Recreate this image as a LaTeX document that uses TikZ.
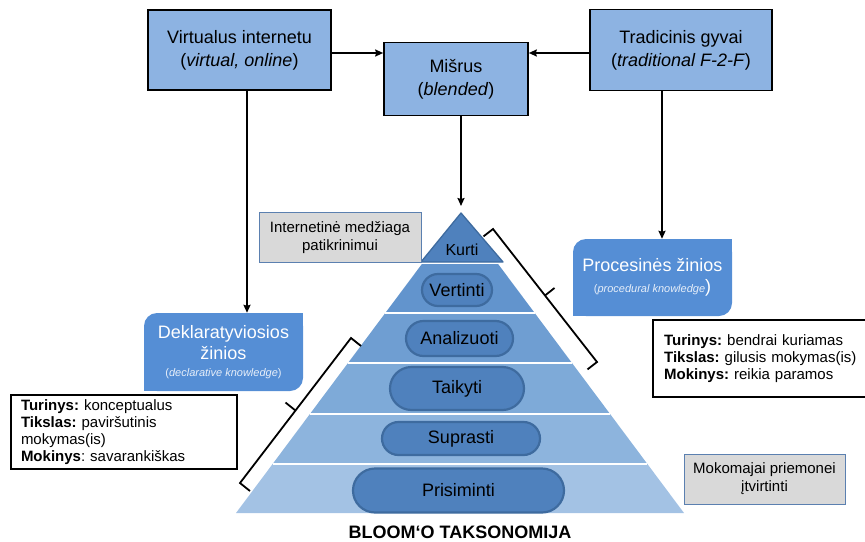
\documentclass[tikz,border=0pt]{standalone}
\usepackage{fontspec}
\setmainfont{Liberation Sans}
\usetikzlibrary{arrows.meta,shapes.misc}
\frenchspacing

\definecolor{boxblue}{HTML}{8DB3E2}
\definecolor{knowblue}{HTML}{558ED5}
\definecolor{pillfill}{HTML}{4F81BD}
\definecolor{pillline}{HTML}{3E6B9F}
\definecolor{greyfill}{HTML}{D9D9D9}
\definecolor{greyline}{HTML}{5B80B0}
\definecolor{laytwo}{HTML}{6294CD}
\definecolor{laythree}{HTML}{6F9ED2}
\definecolor{layfour}{HTML}{7EAAD8}
\definecolor{layfive}{HTML}{8DB4DD}
\definecolor{laysix}{HTML}{A3C2E4}
\definecolor{subwhite}{HTML}{E6EEF9}

\begin{document}
\begin{tikzpicture}[x=1pt,y=-1pt,
  topbox/.style={draw=black, line width=1.6pt, fill=boxblue, align=center,
    inner sep=0pt, font=\fontsize{18}{23}\selectfont},
  knowbox/.style={fill=knowblue, rounded corners=13pt, text=white, align=center,
    inner sep=0pt, font=\fontsize{18}{21}\selectfont},
  notebox/.style={draw=black, line width=2.2pt, fill=white, align=left,
    inner ysep=0pt, font=\fontsize{15}{17}\selectfont},
  greybox/.style={draw=greyline, line width=1pt, fill=greyfill, align=center,
    inner sep=0pt, font=\fontsize{15}{18}\selectfont},
  pill/.style={rounded rectangle, draw=pillline, line width=2.2pt, fill=pillfill,
    inner sep=0pt, font=\fontsize{18}{20}\selectfont},
  arr/.style={line width=1.8pt, -{Stealth[length=8pt,width=7pt,inset=1pt]}},
  bracket/.style={line width=1.8pt, line join=miter},
  sepline/.style={white, line width=1.8pt}]
\useasboundingbox (0,0) rectangle (865,541);

% --- delivery modes ---
\node[topbox, minimum width=183pt, minimum height=80pt] (virt) at (239.5,50)
  {Virtualus internetu\\(\textit{virtual, online})};
\node[topbox, minimum width=144pt, minimum height=73pt] (mis) at (456,79)
  {Mišrus\\(\textit{blended})};
\node[topbox, minimum width=182pt, minimum height=81pt] (trad) at (681,50)
  {Tradicinis gyvai\\(\textit{traditional F-2-F})};

% --- pyramid layers ---
\fill[laytwo]   (421.9,264) -- (498.1,264) -- (534.7,313) -- (385.3,313) -- cycle;
\fill[laythree] (385.3,313) -- (534.7,313) -- (572.0,363) -- (348.0,363) -- cycle;
\fill[layfour]  (348.0,363) -- (572.0,363) -- (610.1,414) -- (309.9,414) -- cycle;
\fill[layfive]  (309.9,414) -- (610.1,414) -- (647.4,464) -- (272.6,464) -- cycle;
\fill[laysix]   (272.6,464) -- (647.4,464) -- (684,513) -- (236,513) -- cycle;
\draw[sepline] (385.3,313) -- (534.7,313);
\draw[sepline] (348.0,363) -- (572.0,363);
\draw[sepline] (309.9,414) -- (610.1,414);
\draw[sepline] (272.6,464) -- (647.4,464);

% top of the pyramid
\coordinate (apex) at (461,213);
\filldraw[fill=pillfill, draw=pillline, line width=1.3pt, line join=round]
  (apex) -- (503,262) -- (421,262) -- cycle;
\node[font=\fontsize{16}{18}\selectfont] (kurti) at (462,250) {Kurti};

% taxonomy levels
\node[pill, minimum width=70pt, minimum height=32pt] (vert) at (457,290) {Vertinti};
\node[pill, minimum width=107pt, minimum height=35pt] (anal) at (459.5,338.5) {Analizuoti};
\node[pill, minimum width=134pt, minimum height=43pt] (taik) at (457,388.5) {Taikyti};
\node[pill, minimum width=158pt, minimum height=33pt] (supr) at (461,438.5) {Suprasti};
\node[pill, minimum width=211pt, minimum height=44pt] (pris) at (458.5,490.5) {Prisiminti};

\node[font=\bfseries\fontsize{18}{20}\selectfont] (title) at (460,532) {BLOOM‘O TAKSONOMIJA};

% --- grey remarks ---
\node[greybox, minimum width=162pt, minimum height=50pt] (inter) at (340,237.5)
  {Internetinė medžiaga\\patikrinimui};
\node[greybox, minimum width=161pt, minimum height=50pt] (mokom) at (764.5,479)
  {Mokomajai priemonei\\įtvirtinti};

% --- knowledge types ---
\node[knowbox, minimum width=159pt, minimum height=78pt] (dek) at (223.5,352)
  {Deklaratyviosios\\žinios\\[-4pt]
   {\color{subwhite}\fontsize{11}{13}\selectfont(\textit{declarative knowledge})}};
\fill[knowblue] (dek.north east) rectangle ++(-14,14);
\fill[knowblue] (dek.south west) rectangle ++(14,-14);

\node[knowbox, minimum width=159pt, minimum height=77pt] (proc) at (652.5,277.5)
  {Procesinės žinios\\
   {\color{subwhite}\fontsize{11}{13}\selectfont(\textit{procedural knowledge}}{\fontsize{18}{21}\selectfont)}};
\fill[knowblue] (proc.north east) rectangle ++(-14,14);
\fill[knowblue] (proc.south west) rectangle ++(14,-14);

% --- descriptions ---
\node[notebox, text width=206pt, inner xsep=10pt, minimum height=74pt] (leftnote) at (124,432)
  {\textbf{Turinys:} konceptualus\\\textbf{Tikslas:} paviršutinis\\mokymas(is)\\\textbf{Mokinys}: savarankiškas};
\node[notebox, text width=197pt, inner xsep=11pt, minimum height=77pt, anchor=west] (rightnote) at (652,358.5)
  {\textbf{Turinys:} bendrai kuriamas\\\textbf{Tikslas:} gilusis mokymas(is)\\\textbf{Mokinys:} reikia paramos};

% --- connectors ---
\draw[arr] ([yshift=-3pt]virt.east) -- ([yshift=-3pt]virt.east -| mis.west);
\draw[arr] ([yshift=-3pt]trad.west) -- ([yshift=-3pt]trad.west -| mis.east);
\draw[arr] ([xshift=7.5pt]virt.south) -- ([xshift=7.5pt]virt.south |- dek.north);
\draw[arr] ([xshift=5pt]mis.south) -- ([yshift=7pt]apex);
\draw[arr] ([xshift=-19pt]trad.south) -- ([xshift=-19pt]trad.south |- proc.north);

% --- brackets along the pyramid sides ---
\draw[bracket] (483.5,236.4) -- (493,229) -- (545,295.5) -- (597,362) -- (587.5,369.4);
\draw[bracket] (545,295.5) -- (554.5,288);
\draw[bracket] (361,346) -- (351,338) -- (295.5,410.5) -- (240,483) -- (250,491);
\draw[bracket] (295.5,410.5) -- (285.5,402.5);
\end{tikzpicture}
\end{document}
